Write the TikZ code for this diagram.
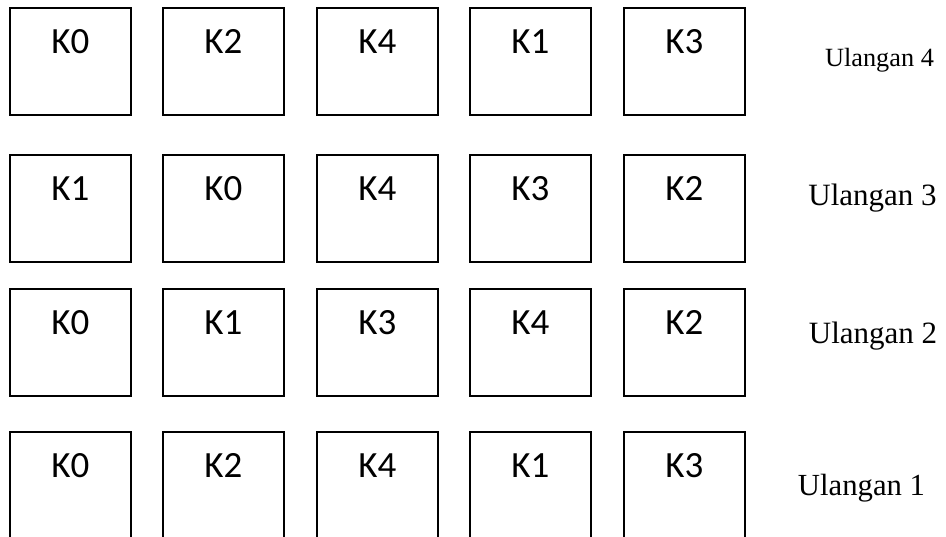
\documentclass[tikz,border=0pt]{standalone}
\usepackage{fontspec}
\usetikzlibrary{calc}
\setmainfont{Liberation Serif}
\newfontfamily\kfont{Carlito}
\begin{document}
\begin{tikzpicture}[x=1pt,y=-1pt,
  box/.style={draw=black,line width=1.6pt,rectangle,minimum width=121pt,minimum height=107pt,inner sep=0pt,anchor=north west},
  ktext/.style={font=\kfont\fontsize{37}{42}\selectfont,anchor=base,inner sep=0pt},
  ulab/.style={anchor=base,inner sep=0pt}]
\useasboundingbox (0,0) rectangle (946,536);
\foreach \r/\top/\la/\lb/\lc/\ld/\le in {1/7/K0/K2/K4/K1/K3, 2/154/K1/K0/K4/K3/K2, 3/288/K0/K1/K3/K4/K2, 4/431/K0/K2/K4/K1/K3}{
  \foreach \c/\x/\t in {1/9/\la, 2/162/\lb, 3/316/\lc, 4/469/\ld, 5/623/\le}{
    \node[box] (b\r\c) at (\x,\top) {};
    \node[ktext] (t\r\c) at ($(b\r\c.north)+(0,46)$) {\t};
  }
}
\node[ulab] (u4) at (879.5,66) {\fontsize{26.3}{30}\selectfont Ulangan 4};
\node[ulab] (u3) at (872.5,205) {\fontsize{31}{35}\selectfont Ulangan 3};
\node[ulab] (u2) at (873,343) {\fontsize{31}{35}\selectfont Ulangan 2};
\node[ulab] (u1) at (861.5,495) {\fontsize{30.7}{35}\selectfont Ulangan 1};
\end{tikzpicture}
\end{document}
